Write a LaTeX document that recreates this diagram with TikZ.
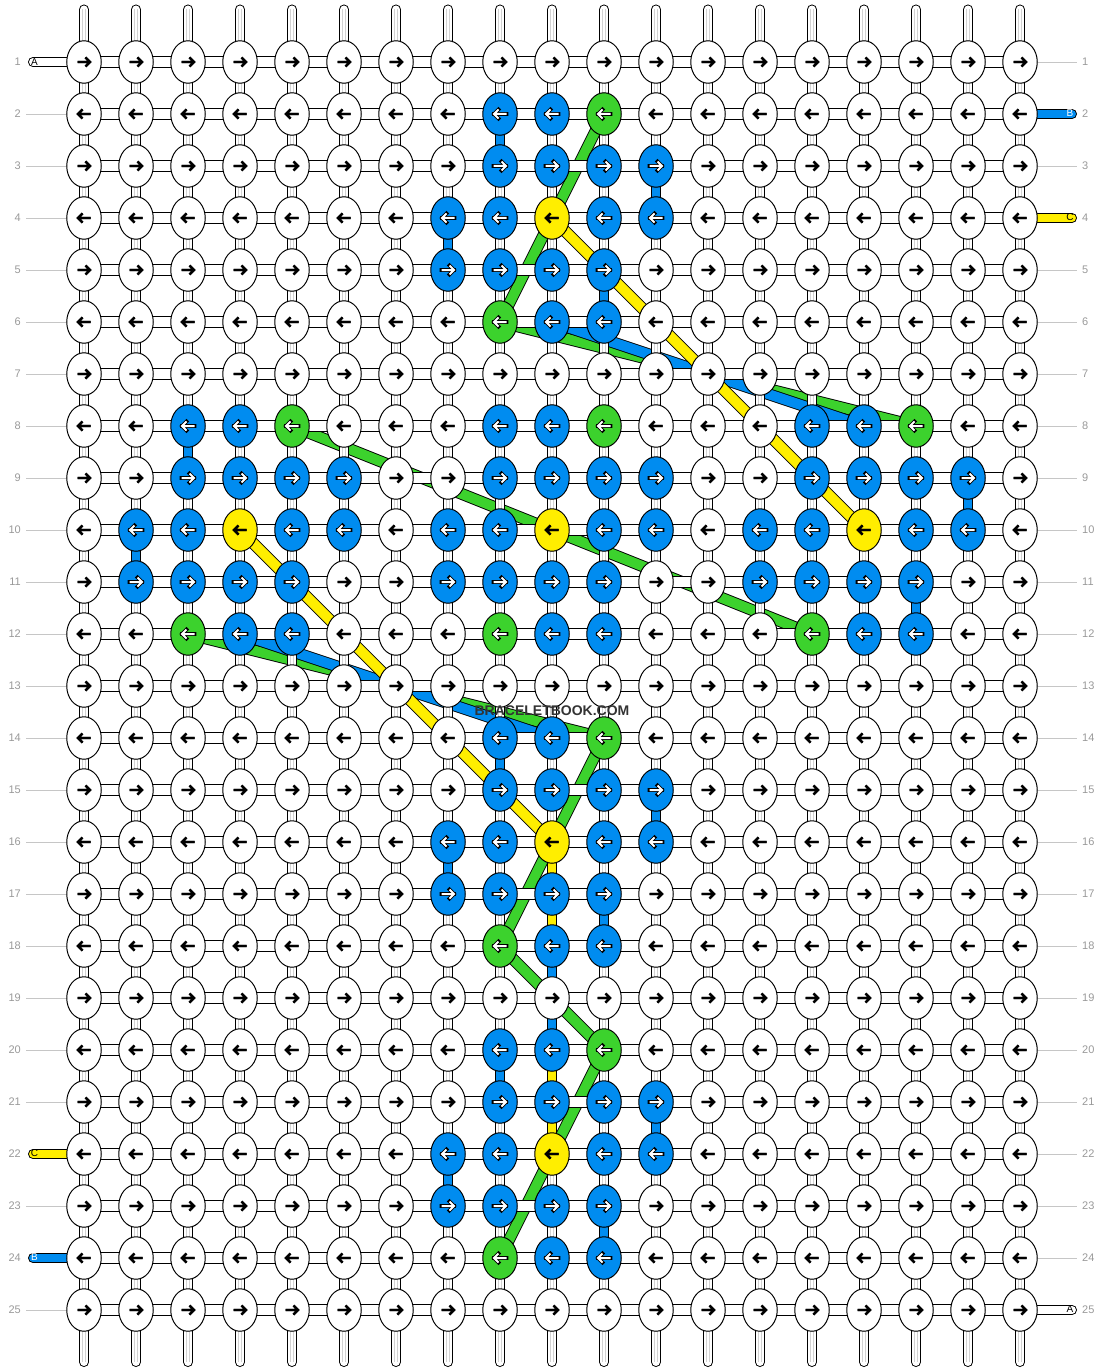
\documentclass[tikz,border=0pt]{standalone}
\usepackage{fontspec}
\setmainfont{Liberation Sans}
\usetikzlibrary{shapes.geometric}

\pgfdeclarelayer{bands}
\pgfdeclarelayer{links}
\pgfsetlayers{bands,links,main}

\definecolor{kw}{RGB}{255,255,255}
\definecolor{kb}{RGB}{0,140,240}
\definecolor{kg}{RGB}{60,210,45}
\definecolor{ky}{RGB}{255,238,0}

\tikzset{
  knot/.style={draw, ellipse, line width=1pt, minimum width=34.5pt, minimum height=42.5pt, inner sep=0pt, fill=#1},
  a1w/.style={black, line width=2.2pt}, a2w/.style={black, line width=2.2pt},
  a1y/.style={black, line width=2.2pt}, a2y/.style={black, line width=2.2pt},
  a1b/.style={black, line width=3.8pt, line cap=rect}, a2b/.style={white, line width=2pt},
  a1g/.style={black, line width=3.8pt, line cap=rect}, a2g/.style={white, line width=2pt},
  pics/arr/.style={code={
    \draw[a1#1] (-6.5,0) -- (6,0) (1.5,-4.5) -- (6,0) -- (1.5,4.5);
    \draw[a2#1] (-6.5,0) -- (6,0) (1.5,-4.5) -- (6,0) -- (1.5,4.5);
  }},
  hlink/.style={draw=black, line width=1pt, double=white, double distance=10pt},
  vlink/.style={draw=black, line width=1pt, double=white, double distance=8pt},
  vcore/.style={draw=gray!35, line width=1pt, double=white, double distance=2pt},
  clink/.style={draw=black, line width=1pt, double=#1, double distance=8pt},
  tail/.style={vlink, line cap=round},
  band/.style={draw=black, line width=0.9pt, double=#1, double distance=10pt},
  guide/.style={draw=gray!45, line width=1pt},
  rowno/.style={text=gray!80, inner sep=0pt, font=\fontsize{11}{11}\selectfont},
  tablbl/.style={inner sep=0pt, font=\fontsize{10}{10}\selectfont},
  brand/.style={text=black!80, inner sep=0pt, font=\fontsize{14}{14}\selectfont\bfseries},
}

\begin{document}
\begin{tikzpicture}[x=1pt, y=-1pt]

\useasboundingbox (0,0) rectangle (1104,1372);

% -------- knots --------
\foreach \row [count=\r] in {
  {w,w,w,w,w,w,w,w,w,w,w,w,w,w,w,w,w,w,w},
  {w,w,w,w,w,w,w,w,b,b,g,w,w,w,w,w,w,w,w},
  {w,w,w,w,w,w,w,w,b,b,b,b,w,w,w,w,w,w,w},
  {w,w,w,w,w,w,w,b,b,y,b,b,w,w,w,w,w,w,w},
  {w,w,w,w,w,w,w,b,b,b,b,w,w,w,w,w,w,w,w},
  {w,w,w,w,w,w,w,w,g,b,b,w,w,w,w,w,w,w,w},
  {w,w,w,w,w,w,w,w,w,w,w,w,w,w,w,w,w,w,w},
  {w,w,b,b,g,w,w,w,b,b,g,w,w,w,b,b,g,w,w},
  {w,w,b,b,b,b,w,w,b,b,b,b,w,w,b,b,b,b,w},
  {w,b,b,y,b,b,w,b,b,y,b,b,w,b,b,y,b,b,w},
  {w,b,b,b,b,w,w,b,b,b,b,w,w,b,b,b,b,w,w},
  {w,w,g,b,b,w,w,w,g,b,b,w,w,w,g,b,b,w,w},
  {w,w,w,w,w,w,w,w,w,w,w,w,w,w,w,w,w,w,w},
  {w,w,w,w,w,w,w,w,b,b,g,w,w,w,w,w,w,w,w},
  {w,w,w,w,w,w,w,w,b,b,b,b,w,w,w,w,w,w,w},
  {w,w,w,w,w,w,w,b,b,y,b,b,w,w,w,w,w,w,w},
  {w,w,w,w,w,w,w,b,b,b,b,w,w,w,w,w,w,w,w},
  {w,w,w,w,w,w,w,w,g,b,b,w,w,w,w,w,w,w,w},
  {w,w,w,w,w,w,w,w,w,w,w,w,w,w,w,w,w,w,w},
  {w,w,w,w,w,w,w,w,b,b,g,w,w,w,w,w,w,w,w},
  {w,w,w,w,w,w,w,w,b,b,b,b,w,w,w,w,w,w,w},
  {w,w,w,w,w,w,w,b,b,y,b,b,w,w,w,w,w,w,w},
  {w,w,w,w,w,w,w,b,b,b,b,w,w,w,w,w,w,w,w},
  {w,w,w,w,w,w,w,w,g,b,b,w,w,w,w,w,w,w,w},
  {w,w,w,w,w,w,w,w,w,w,w,w,w,w,w,w,w,w,w}}{
  \ifodd\r \def\dir{1}\else\def\dir{-1}\fi
  \foreach \col [count=\c] in \row {
    \node[knot=k\col] (k-\r-\c) at ({84+52*(\c-1)},{62+52*(\r-1)}) {};
    \pic[xscale=\dir] at (k-\r-\c) {arr=\col};
  }
}

% -------- row numbers and guides --------
\foreach \r in {1,...,25} {
  \node[rowno, anchor=east] (ln-\r) at (21,{62+52*(\r-1)}) {\r};
  \node[rowno, anchor=west] (rn-\r) at (1082,{62+52*(\r-1)}) {\r};
  \coordinate (lg-\r) at (26,{62.5+52*(\r-1)});
  \coordinate (rg-\r) at (1077,{62.5+52*(\r-1)});
  \coordinate (lt-\r) at (33,{62+52*(\r-1)});
  \coordinate (rt-\r) at (1072,{62+52*(\r-1)});
}
\foreach \r in {2,...,21,23,25} \draw[guide] (lg-\r) -- (k-\r-1.west |- lg-\r);
\foreach \r in {1,3,5,6,...,24} \draw[guide] (k-\r-19.east |- rg-\r) -- (rg-\r);

\begin{pgfonlayer}{links}
% string ends
\draw[tail] (lt-1) -- (k-1-1.center);
\draw[tail, double=ky] (lt-22) -- (k-22-1.center);
\draw[tail, double=kb] (lt-24) -- (k-24-1.center);
\draw[tail, double=kb] (k-2-19.center) -- (rt-2);
\draw[tail, double=ky] (k-4-19.center) -- (rt-4);
\draw[tail] (k-25-19.center) -- (rt-25);

% top and bottom strands
\foreach \c in {1,...,19} {
  \coordinate (t-\c) at ({84+52*(\c-1)},9.5);
  \coordinate (b-\c) at ({84+52*(\c-1)},1362);
  \draw[tail] (t-\c) -- (k-1-\c.center);
  \draw[vcore] (t-\c) -- (k-1-\c.center);
  \draw[tail] (k-25-\c.center) -- (b-\c);
  \draw[vcore] (k-25-\c.center) -- (b-\c);
}

% vertical links
\foreach \r in {1,...,24} {
  \pgfmathtruncatemacro\rn{\r+1}
  \foreach \c in {1,...,19} {
    \draw[vlink] (k-\r-\c.center) -- (k-\rn-\c.center);
    \draw[vcore] (k-\r-\c.center) -- (k-\rn-\c.center);
  }
}
\foreach \r/\c/\k in {2/9/kb, 3/12/kb, 4/8/kb, 5/11/kb, 8/3/kb, 10/2/kb, 9/18/kb, 11/17/kb,
    14/9/kb, 15/12/kb, 16/8/kb, 17/11/kb, 18/10/kb, 19/10/kb,
    20/9/kb, 21/12/kb, 22/8/kb, 23/11/kb,
    16/10/ky, 17/10/ky, 20/10/ky, 21/10/ky} {
  \pgfmathtruncatemacro\rn{\r+1}
  \draw[clink=\k] (k-\r-\c.center) -- (k-\rn-\c.center);
}

% horizontal links
\foreach \r in {1,...,25} {
  \foreach \c in {1,...,18} {
    \pgfmathtruncatemacro\cn{\c+1}
    \draw[hlink] (k-\r-\c.center) -- (k-\r-\cn.center);
  }
}
\end{pgfonlayer}

\begin{pgfonlayer}{bands}
\draw[band=kg] (k-2-11.center) -- (k-6-9.center);
\draw[band=kg] (k-6-9.center) -- (k-8-17.center);
\draw[band=kg] (k-8-5.center) -- (k-12-15.center);
\draw[band=kg] (k-12-3.center) -- (k-14-11.center);
\draw[band=kg] (k-14-11.center) -- (k-18-9.center);
\draw[band=kg] (k-18-9.center) -- (k-20-11.center);
\draw[band=kg] (k-20-11.center) -- (k-24-9.center);
\draw[band=kb] (k-6-10.center) -- (k-8-16.center);
\draw[band=kb] (k-12-4.center) -- (k-14-10.center);
\draw[band=ky] (k-4-10.center) -- (k-10-16.center);
\draw[band=ky] (k-10-4.center) -- (k-16-10.center);
\end{pgfonlayer}

% -------- string letters --------
\node[tablbl] (sa-l) at (34.5,62) {A};
\node[tablbl] (sc-l) at (34.5,1153) {C};
\node[tablbl, text=white] (sb-l) at (34.5,1257) {B};
\node[tablbl, text=white] (sb-r) at (1070,113) {B};
\node[tablbl] (sc-r) at (1070,217) {C};
\node[tablbl] (sa-r) at (1070,1309) {A};

\node[brand] (brand) at (552,711) {BRACELETBOOK.COM};

\end{tikzpicture}
\end{document}
